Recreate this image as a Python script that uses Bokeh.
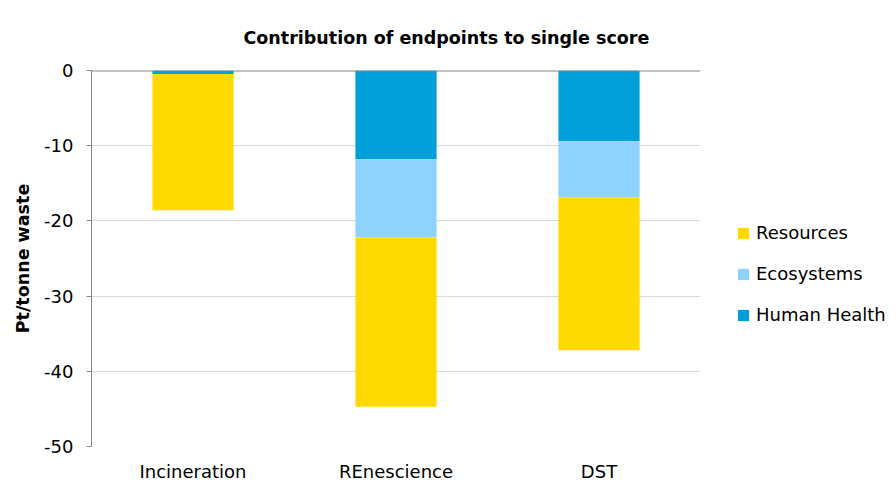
from bokeh.plotting import figure
from bokeh.models import Legend, LegendItem, Span, ColumnDataSource, FixedTicker
from bokeh.embed import file_html
from bokeh.resources import INLINE

categories = ["Incineration", "REnescience", "DST"]
human_health = [-0.45, -11.8, -9.4]
ecosystems = [0.0, -10.4, -7.5]
resources = [-18.15, -22.5, -20.3]
series = ["human_health", "ecosystems", "resources"]
labels = ["Human Health", "Ecosystems", "Resources"]
colors = ["#009FD9", "#8ED3FF", "#FFD900"]
y_ticks = [0, -10, -20, -30, -40, -50]
title_text = "Contribution of endpoints to single score"

source = ColumnDataSource(dict(x=categories, human_health=human_health,
                               ecosystems=ecosystems, resources=resources))

FONT = "DejaVu Sans"

p = figure(x_range=categories, y_range=(-50, 0), frame_width=609, frame_height=376,
           output_backend="svg", toolbar_location=None,
           min_border_left=91, min_border_top=70, min_border_bottom=30, min_border_right=180)
p.outline_line_color = None

renderers = p.vbar_stack(series, x="x", width=0.4, color=colors, source=source, line_color=None)

p.title.text = title_text
p.title.align = "left"
p.title.offset = 152
p.title.standoff = 46
p.title.text_font = FONT
p.title.text_font_size = "17.5px"
p.title.text_font_style = "bold"
p.title.text_color = "#000000"

p.yaxis.ticker = FixedTicker(ticks=y_ticks)
p.yaxis.major_label_overrides = {t: str(t) for t in y_ticks}
p.yaxis.axis_label = "Pt/tonne waste"
p.yaxis.axis_label_text_font = FONT
p.yaxis.axis_label_text_font_size = "17.5px"
p.yaxis.axis_label_text_font_style = "bold"
p.yaxis.axis_label_text_color = "#000000"
p.yaxis.axis_label_standoff = 8
p.yaxis.major_label_text_font = FONT
p.yaxis.major_label_text_font_size = "18px"
p.yaxis.major_label_text_color = "#000000"
p.yaxis.major_label_standoff = 13
p.yaxis.axis_line_color = "#868686"
p.yaxis.major_tick_line_color = "#868686"
p.yaxis.major_tick_out = 5
p.yaxis.major_tick_in = 0
p.yaxis.minor_tick_line_color = None

p.xaxis.axis_line_color = None
p.xaxis.major_tick_line_color = None
p.xaxis.major_label_text_font = FONT
p.xaxis.major_label_text_font_size = "18px"
p.xaxis.major_label_text_color = "#000000"
p.xaxis.major_label_standoff = 8

p.xgrid.grid_line_color = None
p.ygrid.grid_line_color = "#D9D9D9"
p.ygrid.grid_line_width = 1

p.add_layout(Span(location=0, dimension="width", line_color="#868686", line_width=2))

items = [LegendItem(label=labels[i], renderers=[renderers[i]]) for i in [2, 1, 0]]
legend = Legend(items=items, location=(36, 121))
legend.border_line_color = None
legend.background_fill_alpha = 0
legend.label_text_font = FONT
legend.label_text_font_size = "18px"
legend.label_text_color = "#000000"
legend.glyph_width = 14
legend.glyph_height = 14
legend.spacing = 20
legend.label_standoff = 6
legend.padding = 0
legend.margin = 0
p.add_layout(legend, "right")

open("out.html", "w").write(file_html(p, INLINE))
